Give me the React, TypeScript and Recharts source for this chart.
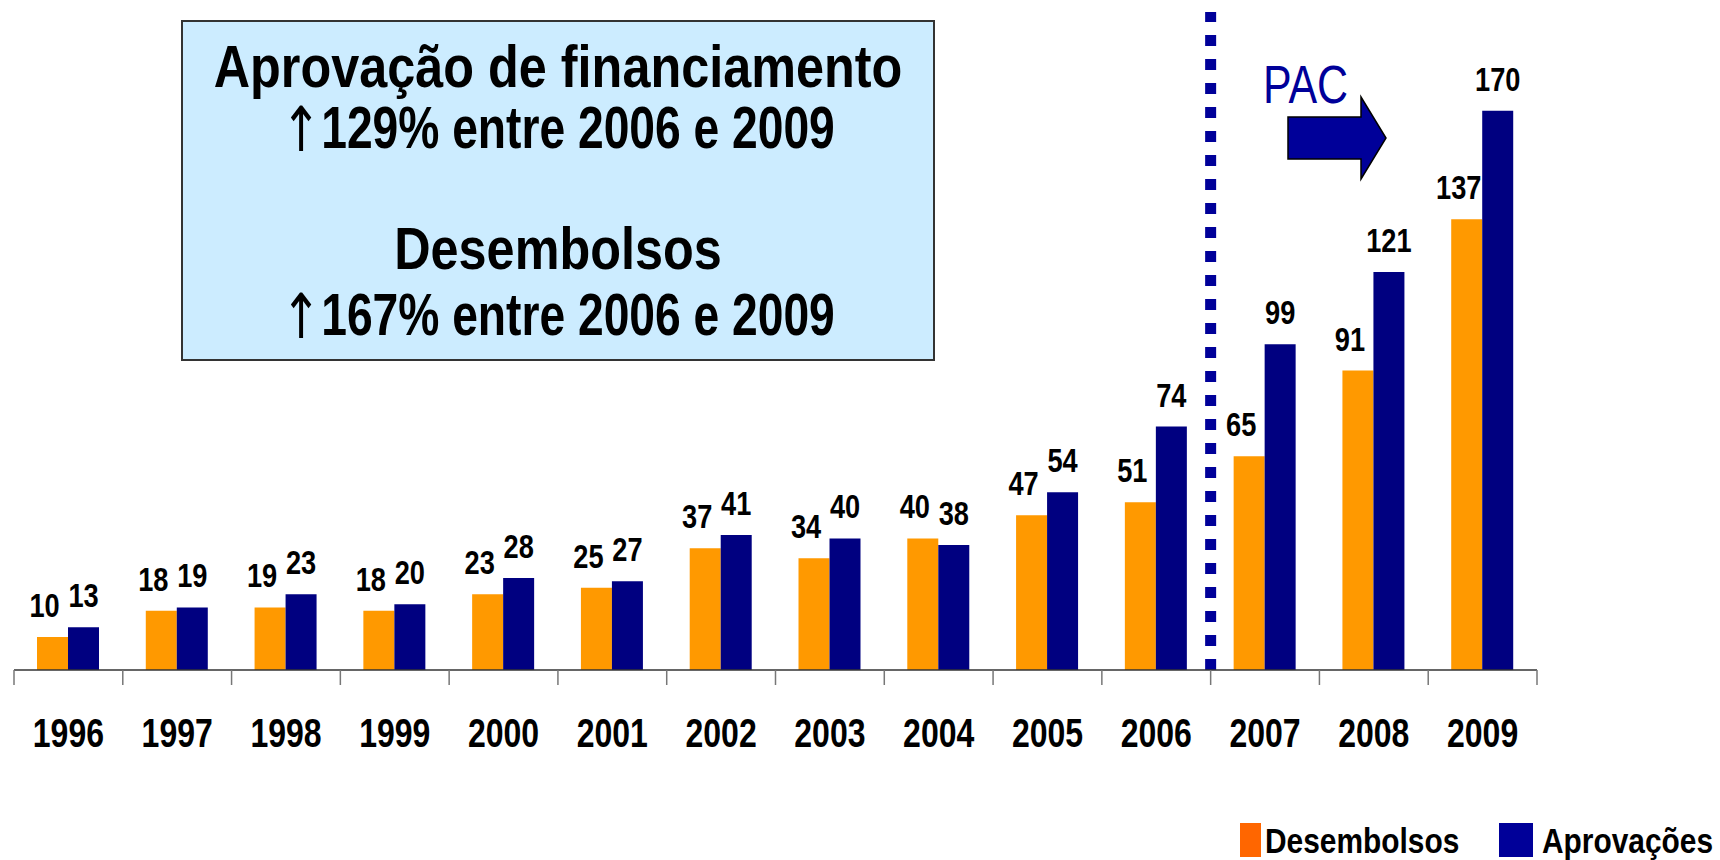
import React from 'react';
import { BarChart, Bar, XAxis, YAxis, LabelList, ReferenceLine } from 'recharts';

const years = ['1996', '1997', '1998', '1999', '2000', '2001', '2002', '2003', '2004', '2005', '2006', '2007', '2008', '2009'];
const desembolsos = [10, 18, 19, 18, 23, 25, 37, 34, 40, 47, 51, 65, 91, 137];
const aprovacoes = [13, 19, 23, 20, 28, 27, 41, 40, 38, 54, 74, 99, 121, 170];
const boxTitles = ['Aprovação de financiamento', 'Desembolsos'];
const boxGrowth = ['129% entre 2006 e 2009', '167% entre 2006 e 2009'];

const W = 1720;
const H = 860;
const margin = { top: 12, right: 183, left: 14, bottom: 100 };
const plotWidth = W - margin.left - margin.right;
const band = plotWidth / years.length;

// no condensed face is installed, so Liberation Sans is squeezed horizontally
const FONT = '"Liberation Sans", Arial, sans-serif';
const SQUEEZE = 0.8;
const ORANGE = '#FF9900';
const NAVY = '#000080';
const DARKBLUE = '#000099';

const data = years.map((year, i) => ({
  year,
  desembolsos: desembolsos[i],
  aprovacoes: aprovacoes[i],
}));

type NTextProps = {
  x: number;
  y: number;
  size: number;
  anchor?: 'start' | 'middle' | 'end';
  bold?: boolean;
  fill?: string;
  squeeze?: number;
  children: React.ReactNode;
};

function NText({ x, y, size, anchor = 'middle', bold = true, fill = '#000', squeeze = SQUEEZE, children }: NTextProps) {
  return (
    <text
      transform={`translate(${x} ${y}) scale(${squeeze} 1)`}
      textAnchor={anchor}
      fontFamily={FONT}
      fontWeight={bold ? 'bold' : 'normal'}
      fontSize={size}
      fill={fill}
    >
      {children}
    </text>
  );
}

function GrowthLine({ y, text }: { y: number; text: string }) {
  return (
    <NText x={558} y={y} size={60} squeeze={0.77}>
      <tspan fontFamily='"DejaVu Sans", sans-serif' fontWeight="normal" fontSize={62} dy={3}>↑</tspan>
      <tspan dy={-3}>{text}</tspan>
    </NText>
  );
}

function XTick(props: any) {
  const { x, y, payload } = props;
  const i = years.indexOf(payload.value);
  return (
    <g>
      <line x1={x - band / 2} x2={x - band / 2} y1={y} y2={y + 15} stroke="#777" strokeWidth={1.5} />
      {i === years.length - 1 && (
        <line x1={x + band / 2} x2={x + band / 2} y1={y} y2={y + 15} stroke="#777" strokeWidth={1.5} />
      )}
      <NText x={x} y={y + 77} size={40}>
        {payload.value}
      </NText>
    </g>
  );
}

function makeLabel(dx: number) {
  return (props: any) => {
    const { x, y, width, value } = props;
    return (
      <NText x={x + width / 2 + dx} y={y - 20} size={34}>
        {value}
      </NText>
    );
  };
}

export default function App() {
  return (
    <div style={{ position: 'absolute', left: 0, top: 0, width: W, height: H, background: '#fff' }}>
      <BarChart width={W} height={H} data={data} margin={margin} barGap={0}>
        <XAxis
          dataKey="year"
          height={90}
          tickLine={false}
          tickSize={0}
          tickMargin={0}
          axisLine={{ stroke: '#333', strokeWidth: 1.5 }}
          tick={<XTick />}
          interval={0}
        />
        <YAxis hide domain={[0, 200]} />
        <Bar dataKey="desembolsos" fill={ORANGE} barSize={31} isAnimationActive={false}>
          <LabelList dataKey="desembolsos" content={makeLabel(-8)} />
        </Bar>
        <Bar dataKey="aprovacoes" fill={NAVY} barSize={31} isAnimationActive={false}>
          <LabelList dataKey="aprovacoes" content={makeLabel(0)} />
        </Bar>
        <ReferenceLine
          x="2006"
          position="end"
          stroke={DARKBLUE}
          strokeWidth={11}
          strokeDasharray="11 13"
          ifOverflow="visible"
        />
      </BarChart>

      <svg width={W} height={H} style={{ position: 'absolute', left: 0, top: 0, pointerEvents: 'none' }}>
        <rect x={182} y={21} width={752} height={339} fill="#CCECFF" stroke="#333" strokeWidth={2} />
        <NText x={558} y={87} size={60} squeeze={0.84}>{boxTitles[0]}</NText>
        <GrowthLine y={148} text={boxGrowth[0]} />
        <NText x={558} y={269} size={60} squeeze={0.84}>{boxTitles[1]}</NText>
        <GrowthLine y={335} text={boxGrowth[1]} />

        <NText x={1263} y={103} size={53} anchor="start" bold={false} fill={DARKBLUE} squeeze={0.81}>PAC</NText>
        <polygon
          points="1288,117 1361,117 1361,97 1386,138 1361,179 1361,159 1288,159"
          fill={DARKBLUE}
          stroke="#000"
          strokeWidth={1.5}
        />

        <rect x={1240} y={823} width={21} height={34} fill="#FF6600" />
        <NText x={1265} y={853} size={36} anchor="start" squeeze={0.83}>Desembolsos</NText>
        <rect x={1499} y={823} width={34} height={34} fill={DARKBLUE} />
        <NText x={1542} y={853} size={36} anchor="start" squeeze={0.83}>Aprovações</NText>
      </svg>
    </div>
  );
}
